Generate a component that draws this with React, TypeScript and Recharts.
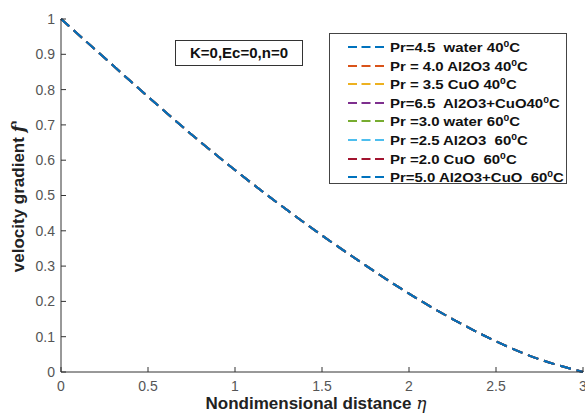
import React from "react";
import { LineChart, Line, XAxis, YAxis, Label } from "recharts";

// nondimensional distance (eta) samples
const eta = [0, 0.25, 0.5, 0.75, 1, 1.25, 1.5, 1.75, 2, 2.25, 2.5, 2.75, 3];
// f' -- all eight cases lie on top of each other
const velocityGradient = [1, 0.89, 0.78, 0.673, 0.572, 0.477, 0.387, 0.302, 0.222, 0.15, 0.087, 0.036, 0];

const seriesLabels = [
    "Pr=4.5  water 40",
    "Pr = 4.0 Al2O3 40",
    "Pr = 3.5 CuO 40",
    "Pr=6.5  Al2O3+CuO40",
    "Pr =3.0 water 60",
    "Pr =2.5 Al2O3  60",
    "Pr =2.0 CuO  60",
    "Pr=5.0 Al2O3+CuO  60",
];
const seriesColors = ["#0072BD", "#D95319", "#EDB120", "#7E2F8E", "#77AC30", "#4DBEEE", "#A2142F", "#0072BD"];

const xTicks = [0, 0.5, 1, 1.5, 2, 2.5, 3];
const yTicks = [0, 0.1, 0.2, 0.3, 0.4, 0.5, 0.6, 0.7, 0.8, 0.9, 1];

const rows = eta.map((e, i) => {
    const row: any = { eta: e };
    seriesLabels.forEach((_, s) => {
        row["s" + s] = velocityGradient[i];
    });
    return row;
});

const FONT = "'Liberation Sans', Arial, Helvetica, sans-serif";
const AXIS = "#333333";
const tickStyle = { fontSize: 14, fill: "#555555", fontFamily: FONT };

function XTitle(props: any) {
    const { y, height } = props.viewBox;
    return (
        <text
            x={316}
            y={y + height - 5}
            textAnchor="middle"
            fontFamily={FONT}
            fontSize={17}
            fontWeight="bold"
            fill="#222"
        >
            Nondimensional distance{" "}
            <tspan fontFamily="'DejaVu Serif', serif" fontStyle="italic" fontWeight="normal">
                η
            </tspan>
        </text>
    );
}

function YTitle() {
    return (
        <text
            transform="translate(24, 196) rotate(-90)"
            textAnchor="middle"
            fontFamily={FONT}
            fontSize={17}
            fontWeight="bold"
            fill="#222"
        >
            velocity gradient{" "}
            <tspan fontFamily="'DejaVu Serif', serif" fontStyle="italic">
                f'
            </tspan>
        </text>
    );
}

export default function App() {
    return (
        <div style={{ position: "absolute", left: 0, top: 0, width: 585, height: 414, background: "#fff" }}>
            <LineChart
                width={585}
                height={414}
                data={rows}
                margin={{ top: 19, right: 2, bottom: 0, left: 13 }}
            >
                <XAxis
                    xAxisId="b"
                    dataKey="eta"
                    type="number"
                    domain={[0, 3]}
                    ticks={xTicks}
                    height={42}
                    stroke={AXIS}
                    tickSize={-5}
                    tickMargin={14}
                    tick={tickStyle}
                    interval={0}
                >
                    <Label content={<XTitle />} />
                </XAxis>
                <XAxis
                    xAxisId="t"
                    orientation="top"
                    type="number"
                    domain={[0, 3]}
                    ticks={xTicks}
                    height={0}
                    mirror
                    stroke={AXIS}
                    tickSize={5}
                    tickFormatter={() => ""}
                    allowDataOverflow
                />
                <YAxis
                    yAxisId="l"
                    type="number"
                    domain={[0, 1]}
                    ticks={yTicks}
                    width={48}
                    stroke={AXIS}
                    tickSize={-5}
                    tickMargin={11}
                    tick={tickStyle}
                    interval={0}
                >
                    <Label content={<YTitle />} />
                </YAxis>
                <YAxis
                    yAxisId="r"
                    orientation="right"
                    type="number"
                    domain={[0, 1]}
                    ticks={yTicks}
                    width={0}
                    mirror
                    stroke={AXIS}
                    tickSize={5}
                    tickFormatter={() => ""}
                    allowDataOverflow
                />
                {seriesLabels.map((name, s) => (
                    <Line
                        key={name}
                        xAxisId="b"
                        yAxisId="l"
                        type="natural"
                        dataKey={"s" + s}
                        name={name}
                        stroke={seriesColors[s]}
                        strokeWidth={2}
                        strokeDasharray="11 6"
                        dot={false}
                        isAnimationActive={false}
                    />
                ))}
            </LineChart>

            {/* annotation box */}
            <div
                style={{
                    position: "absolute",
                    left: 175,
                    top: 40,
                    width: 126,
                    height: 24,
                    border: "1px solid #333",
                    background: "#fff",
                    fontFamily: FONT,
                    fontWeight: "bold",
                    fontSize: 15,
                    lineHeight: "24px",
                    textAlign: "center",
                    color: "#111",
                }}
            >
                K=0,Ec=0,n=0
            </div>

            {/* legend */}
            <div
                style={{
                    position: "absolute",
                    left: 329,
                    top: 33,
                    width: 236,
                    height: 149,
                    border: "1px solid #444",
                    background: "#fff",
                    fontFamily: FONT,
                    fontWeight: "bold",
                    fontSize: 13,
                    color: "#111",
                }}
            >
                {seriesLabels.map((name, s) => (
                    <div
                        key={name}
                        style={{
                            position: "absolute",
                            left: 0,
                            top: 4 + s * 18.6,
                            height: 18,
                            display: "flex",
                            alignItems: "center",
                            whiteSpace: "pre",
                        }}
                    >
                        <svg width={60} height={18} style={{ display: "block" }}>
                            <line
                                x1={18}
                                x2={54}
                                y1={9}
                                y2={9}
                                stroke={seriesColors[s]}
                                strokeWidth={2}
                                strokeDasharray="9 4.5"
                            />
                        </svg>
                        <span style={{ display: "inline-block", transform: "scaleX(1.15)", transformOrigin: "left center" }}>
                            {name}
                            <sup style={{ fontSize: 9, verticalAlign: "5px" }}>0</sup>C
                        </span>
                    </div>
                ))}
            </div>
        </div>
    );
}
